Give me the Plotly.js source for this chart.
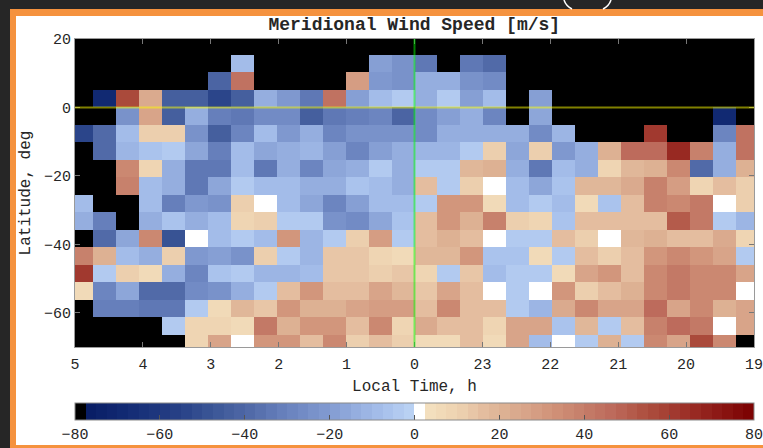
<!DOCTYPE html>
<html>
<head>
<meta charset="utf-8">
<script src="https://cdn.plot.ly/plotly-3.0.1.min.js"></script>
<style>
  html, body { margin: 0; padding: 0; width: 763px; height: 448px; overflow: hidden; background: #262626; }
  #frame { position: absolute; left: 10px; top: 9px; width: 800px; height: 429px; background: #ffffff;
           border-left: 6px solid #f5923e; border-top: 7px solid #f5923e; border-bottom: 3px solid #f5923e; }
  #deco { position: absolute; left: 0; top: 0; width: 763px; height: 10px; }
  #chart { position: absolute; left: 0; top: 0; width: 763px; height: 448px; }
</style>
</head>
<body>
<div id="frame"></div>
<svg id="deco" viewBox="0 0 763 10">
  <path d="M564,0 Q566,6 572,9" stroke="#ffffff" stroke-width="1.5" fill="none"/>
  <path d="M611,0 Q609,6 603,9" stroke="#ffffff" stroke-width="1.5" fill="none"/>
</svg>
<div id="chart"></div>
<script>
// ---- data ----
const N = null;
// local time tick positions (unwrapped: 5h -> 29, 0h -> 24, 19h -> 19) and labels
const timeTickVals = [29, 28, 27, 26, 25, 24, 23, 22, 21, 20, 19];
const timeTickText = ['5', '4', '3', '2', '1', '0', '23', '22', '21', '20', '19'];
const latTickVals = [-60, -40, -20, 0, 20];
const windTickVals = [-80, -60, -40, -20, 0, 20, 40, 60, 80];

// meridional wind speed [m/s]; rows top (north) to bottom (south), columns from 5h toward 19h
const row_20N = [N,N,N,N,N,N,N,N,N,N,N,N,N,N,N,N,N,N,N,N,N,N,N,N,N,N,N,N,N,N];
const row_15N = [N,N,N,N,N,N,N,-8,N,N,N,N,N,-20,-25,-33,N,-33,-40,N,N,N,N,N,N,N,N,N,N,N];
const row_10N = [N,N,N,N,N,N,-42,43,N,N,N,N,28,-22,-24,-15,-15,-25,-27,N,N,N,N,N,N,N,N,N,N,N];
const row_05N = [N,-68,55,23,-45,-43,-55,-43,-15,-22,-35,43,-20,-8,-4,-15,-4,-18,-9,N,-20,N,N,N,N,N,N,N,N,N];
const row_00  = [N,N,-25,27,-45,-13,-32,-33,-27,-27,-45,-33,-32,-28,-42,-26,-20,-13,-30,N,-17,N,N,N,N,N,N,N,-70,N];
const row_05S = [-55,-38,-8,12,12,-24,-45,-28,-9,-22,-13,-30,-24,-25,-25,-27,-13,-13,-15,-15,-27,-12,N,N,N,62,N,N,-28,43];
const row_10S = [N,-40,-11,-6,-5,-17,-32,-8,-17,-15,-11,-18,-29,-18,-15,-11,-11,-5,12,-17,12,-22,-13,22,47,47,67,38,-15,44];
const row_15S = [N,N,35,8,-13,-33,-33,-8,-35,-15,-28,-17,-13,-5,-15,-5,-5,18,20,-13,-35,-10,-13,8,18,20,35,-40,-15,20];
const row_20S = [N,N,38,-10,-15,-33,-17,-4,-10,-8,-13,-13,-7,-10,-13,15,-4,12,1,-8,-17,-7,18,18,24,38,28,8,16,11];
const row_25S = [-10,N,N,-8,-32,-22,-25,12,1,-8,-17,-30,-18,-8,-8,-4,30,30,6,-8,-4,-10,6,-7,16,38,35,42,1,12];
const row_30S = [-13,-32,N,-15,-7,-13,-8,8,12,-5,-5,-24,-26,-17,-7,15,30,20,38,12,9,-7,15,16,16,16,50,42,-5,-11];
const row_35S = [N,-40,-17,37,-48,1,-8,-4,-8,30,-11,-5,12,28,-5,16,22,15,1,-5,-5,15,10,1,18,22,16,15,24,8];
const row_40S = [38,22,-10,-13,10,-22,-20,-24,12,-5,-11,13,13,9,6,18,18,32,-7,-7,6,-4,15,12,16,30,35,30,27,-5];
const row_45S = [60,-5,12,6,-13,-28,-7,-5,-11,-11,-8,13,13,10,13,8,-5,13,-10,-4,-5,6,26,30,15,35,40,37,37,27];
const row_50S = [6,-28,-17,-38,-38,-27,-25,-13,-5,15,30,15,16,27,18,13,26,16,1,-4,1,30,12,15,22,35,42,35,35,1];
const row_55S = [N,-32,-32,-33,-35,-4,6,18,13,30,22,22,26,28,28,15,35,16,15,-5,-11,24,35,27,26,47,27,35,22,26];
const row_60S = [N,N,N,N,-5,8,9,6,40,20,32,32,16,37,8,24,16,16,8,26,26,-7,18,-5,15,38,45,42,1,27];
const row_65S = [N,N,N,N,N,8,26,1,30,30,16,35,12,16,12,6,6,16,6,27,-10,1,-5,20,-5,35,27,55,35,N];

const windZ = [row_20N,row_15N,row_10N,row_05N,row_00,row_05S,row_10S,row_15S,row_20S,
               row_25S,row_30S,row_35S,row_40S,row_45S,row_50S,row_55S,row_60S,row_65S];

// ---- discrete 64-level colormap (style) ----
const blueAnchors = [[-77.5,[8,28,100]],[-68,[18,42,115]],[-55,[40,65,135]],[-48,[58,85,150]],
  [-40,[78,103,165]],[-32,[100,125,185]],[-22,[125,150,205]],[-15,[145,170,220]],[-8,[165,190,235]],[-1.25,[185,209,243]]];
const redAnchors = [[3.75,[243,223,190]],[8,[240,215,180]],[12,[235,205,172]],[16,[228,190,160]],
  [20,[222,180,150]],[27,[215,162,135]],[35,[205,140,115]],[40,[197,125,105]],[47,[188,105,90]],
  [55,[172,78,62]],[62,[160,55,45]],[67,[150,38,32]],[78.75,[125,3,3]]];
function interp(anchors, v) {
  if (v <= anchors[0][0]) return anchors[0][1];
  for (let i = 1; i < anchors.length; i++) {
    if (v <= anchors[i][0]) {
      const [v0, c0] = anchors[i-1], [v1, c1] = anchors[i];
      const t = (v - v0) / (v1 - v0);
      return c0.map((c, k) => Math.round(c + t * (c1[k] - c)));
    }
  }
  return anchors[anchors.length-1][1];
}
const nLev = 64, zMin = -80, zMax = 80, step = (zMax - zMin) / nLev;
const colorscale = [];
for (let i = 0; i < nLev; i++) {
  const mid = zMin + step * (i + 0.5);
  let c;
  if (i === 0) c = [0,0,0];
  else if (mid > 0 && mid < step) c = [255,255,255];
  else if (mid < 0) c = interp(blueAnchors, mid);
  else c = interp(redAnchors, mid);
  const col = 'rgb(' + c.join(',') + ')';
  colorscale.push([i / nLev, col]);
  colorscale.push([(i + 1) / nLev, col]);
}

const cellW = 23 / 68;          // hours per column
const cellH = 17.5 / (308 / 90); // degrees per row

const trace = {
  type: 'heatmap',
  z: windZ,
  x0: 24 + 14.5 * cellW, dx: -cellW,
  y0: 3.5 * cellH, dy: -cellH,
  zmin: zMin, zmax: zMax, zsmooth: false,
  colorscale: colorscale,
  hoverinfo: 'skip',
  colorbar: {
    orientation: 'h', x: 0, xanchor: 'left', y: -0.182, yanchor: 'top',
    len: 1, lenmode: 'fraction', thickness: 17, thicknessmode: 'pixels',
    xpad: 0, ypad: 0, outlinewidth: 1, outlinecolor: '#8a8a8a',
    tickvals: windTickVals, ticks: 'inside', ticklen: 5, tickcolor: '#555',
    ticklabeloverflow: 'allow',
    tickfont: { family: 'Liberation Mono', size: 15, color: '#262626' }
  }
};

const fontMono = 'Liberation Mono';
const layout = {
  width: 763, height: 448,
  margin: { l: 75, r: 9, t: 39, b: 101, autoexpand: false },
  paper_bgcolor: 'rgba(0,0,0,0)',
  plot_bgcolor: '#000000',
  font: { family: fontMono, color: '#262626', size: 15 },
  title: { text: '<b>Meridional Wind Speed [m/s]</b>', font: { family: fontMono, size: 18, color: '#262626' },
           x: 0.543, xanchor: 'center', y: 1 - 24 / 448, yanchor: 'middle', yref: 'container' },
  xaxis: {
    range: [29, 19], tickvals: timeTickVals, ticktext: timeTickText,
    ticks: 'inside', ticklen: 5, tickcolor: '#777', showline: true, linecolor: '#9a9a9a', mirror: 'ticks',
    showgrid: false, zeroline: false, tickfont: { size: 15 }, ticklabeloverflow: 'allow',
    ticklabelstandoff: 3,
    title: { text: 'Local Time, h', font: { size: 16 }, standoff: 6 }
  },
  yaxis: {
    range: [-70, 20], tickvals: latTickVals,
    ticks: 'inside', ticklen: 5, tickcolor: '#777', showline: true, linecolor: '#9a9a9a', mirror: 'ticks',
    showgrid: false, zeroline: false, tickfont: { size: 15 },
    title: { text: 'Latitude, deg', font: { size: 16 }, standoff: 9 }
  },
  shapes: [
    { type: 'line', xref: 'paper', x0: 0, x1: 1, yref: 'y', y0: 0, y1: 0,
      line: { color: 'rgba(255,255,0,0.5)', width: 2 }, layer: 'above' },
    { type: 'line', xref: 'x', x0: 24, x1: 24, yref: 'paper', y0: 0, y1: 1,
      line: { color: 'rgba(0,255,0,0.5)', width: 2 }, layer: 'above' }
  ]
};

Plotly.newPlot('chart', [trace], layout, { displayModeBar: false, staticPlot: true });
</script>
</body>
</html>
